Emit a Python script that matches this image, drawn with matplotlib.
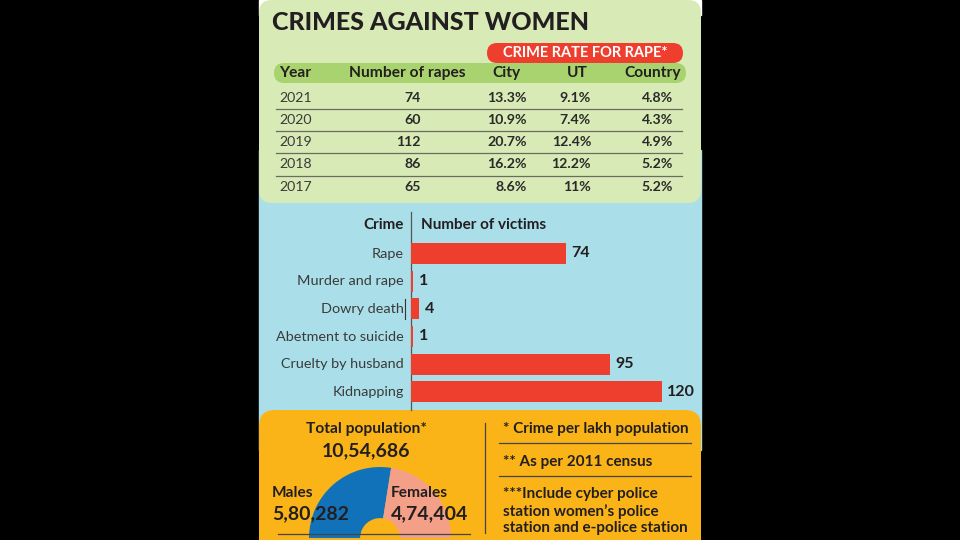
import matplotlib
matplotlib.use('Agg')
import matplotlib.pyplot as plt
from matplotlib import font_manager
from matplotlib.patches import FancyBboxPatch, Rectangle

# ---- data ----
years = ['2021', '2020', '2019', '2018', '2017']
rapes = [74, 60, 112, 86, 65]
city_rate = [13.3, 10.9, 20.7, 16.2, 8.6]
ut_rate = [9.1, 7.4, 12.4, 12.2, 11]
country_rate = [4.8, 4.3, 4.9, 5.2, 5.2]
table_cols = ['Year', 'Number of rapes', 'City', 'UT', 'Country']

crimes = ['Rape', 'Murder and rape', 'Dowry death', 'Abetment to suicide',
          'Cruelty by husband', 'Kidnapping']
victims = [74, 1, 4, 1, 95, 120]

males = 580282
females = 474404
total_pop = 1054686

notes = ['* Crime per lakh population', '** As per 2011 census',
         '***Include cyber police\nstation women\u2019s police\nstation and e-police station']

# ---- fonts ----
names = {f.name for f in font_manager.fontManager.ttflist}
body = 'Lato' if 'Lato' in names else 'DejaVu Sans'
plt.rcParams['font.family'] = [body, 'DejaVu Sans']
BOLD = 'bold'

INK = '#231f20'
GREEN = '#d8ebb6'
GREEN_DARK = '#a9d36e'
BLUE_BG = '#aadfe9'
ORANGE = '#fbb418'
RED = '#ee3f2e'
M_BLUE = '#1272b9'
F_PINK = '#f4a088'
LINE = '#6b6b60'


def indian(n):
    s = str(n)
    head, tail = s[:-3], s[-3:]
    parts = []
    while len(head) > 2:
        parts.insert(0, head[-2:])
        head = head[:-2]
    if head:
        parts.insert(0, head)
    return ','.join(parts + [tail])


def fax(l, t, w, h):
    return fig.add_axes([l / 960, 1 - (t + h) / 540, w / 960, h / 540])


fig = plt.figure(figsize=(9.6, 5.4), dpi=100, facecolor='black')
ax = fig.add_axes([0, 0, 1, 1])
ax.set_xlim(0, 960)
ax.set_ylim(540, 0)
ax.axis('off')

# panels
PL, PW = 259, 442
ax.add_patch(Rectangle((PL, 0), PW, 15, color='white', zorder=0))
ax.add_patch(Rectangle((PL, 150), PW, 300, color=BLUE_BG, zorder=0))
ax.add_patch(FancyBboxPatch((PL, 0), PW, 203, boxstyle='round,pad=0,rounding_size=13',
                            fc=GREEN, ec='none', zorder=1))
ax.add_patch(FancyBboxPatch((PL, 410), PW, 160, boxstyle='round,pad=0,rounding_size=16',
                            fc=ORANGE, ec='none', zorder=1))

# title
ax.text(272, 23, 'CRIMES AGAINST WOMEN', fontsize=18, fontweight='black',
        color=INK, va='center', ha='left', zorder=3)

# red pill
ax.add_patch(FancyBboxPatch((487, 43), 196, 20, boxstyle='round,pad=0,rounding_size=10',
                            fc=RED, ec='none', zorder=2))
ax.text(585, 53, 'CRIME RATE FOR RAPE*', color='white', fontsize=10.5, fontweight=BOLD,
        ha='center', va='center', zorder=3)

# header pill
ax.add_patch(FancyBboxPatch((274, 63), 412, 20, boxstyle='round,pad=0,rounding_size=10',
                            fc=GREEN_DARK, ec='none', zorder=2))
head_x = [279, 407, 506, 577, 681]
head_ha = ['left', 'center', 'center', 'center', 'right']
for label, x, ha in zip(table_cols, head_x, head_ha):
    ax.text(x, 73, label, fontsize=11.2, fontweight=BOLD, color=INK, ha=ha, va='center', zorder=3)

row_y0, row_dy = 97.5, 22.3
for i, yr in enumerate(years):
    y = row_y0 + i * row_dy
    ax.text(279, y, yr, fontsize=10.2, color='#3a3a3a', ha='left', va='center', zorder=3)
    ax.text(421, y, str(rapes[i]), fontsize=10.2, fontweight=BOLD, color='#2a2a2a', ha='right', va='center', zorder=3)
    ax.text(527, y, f'{city_rate[i]:g}%', fontsize=10.2, fontweight=BOLD, color='#2a2a2a', ha='right', va='center', zorder=3)
    ax.text(591, y, f'{ut_rate[i]:g}%', fontsize=10.2, fontweight=BOLD, color='#2a2a2a', ha='right', va='center', zorder=3)
    ax.text(673, y, f'{country_rate[i]:g}%', fontsize=10.2, fontweight=BOLD, color='#2a2a2a', ha='right', va='center', zorder=3)
    if i < len(years) - 1:
        ax.plot([276, 682], [y + row_dy / 2, y + row_dy / 2], color=LINE, lw=0.9, zorder=3)

# ---- bar chart ----
bx = fax(411, 239.5, 270, 166.2)
bx.barh(range(len(crimes)), victims, height=0.76, color=RED, zorder=2)
bx.set_xlim(0, 270 / 2.09)
bx.set_ylim(len(crimes) - 0.5, -0.5)
bx.axis('off')
for i, v in enumerate(victims):
    bx.text(v + 2.6, i, str(v), fontsize=11.5, fontweight=BOLD, color=INK, va='center', ha='left')
for i, c in enumerate(crimes):
    ax.text(404, 253.5 + i * 27.7, c, fontsize=10.4, color='#3a3a3a', ha='right', va='center', zorder=3)

ax.plot([411, 411], [212, 410], color='#555555', lw=0.9, zorder=3)
ax.plot([405, 405], [299, 319], color='#333333', lw=0.8, zorder=3)
ax.text(404, 225, 'Crime', fontsize=11, fontweight=BOLD, color=INK, ha='right', va='center', zorder=3)
ax.text(421, 225, 'Number of victims', fontsize=11, fontweight=BOLD, color=INK, ha='left', va='center', zorder=3)

# ---- population half donut ----
px = fax(309, 467, 142, 142)
px.pie([males, females, total_pop], colors=[M_BLUE, F_PINK, 'none'], startangle=180,
       counterclock=False, radius=1, wedgeprops=dict(width=0.72, linewidth=0))
px.set_xlim(-1, 1)
px.set_ylim(-1, 1)
px.set_aspect('equal')
px.axis('off')

ax2 = fig.add_axes([0, 0, 1, 1])
ax2.set_xlim(0, 960)
ax2.set_ylim(540, 0)
ax2.axis('off')
ax2.patch.set_alpha(0)

ax2.text(366, 429, 'Total population*', fontsize=11.2, fontweight=BOLD, color=INK, ha='center', va='center')
ax2.text(366, 451, indian(total_pop), fontsize=14, fontweight=BOLD, color=INK, ha='center', va='center')
ax2.text(272, 493, 'Males', fontsize=11.2, fontweight=BOLD, color=INK, ha='left', va='center')
ax2.text(272, 514, indian(males), fontsize=14, fontweight=BOLD, color=INK, ha='left', va='center')
ax2.text(391, 493, 'Females', fontsize=11.2, fontweight=BOLD, color=INK, ha='left', va='center')
ax2.text(391, 514, indian(females), fontsize=14, fontweight=BOLD, color=INK, ha='left', va='center')
ax2.plot([278, 470], [534, 534], color='#444444', lw=0.9)
ax2.plot([485, 485], [423, 533], color='#444444', lw=0.9)

note_y = [429, 462, 511]
for t, y in zip(notes, note_y):
    ax2.text(503, y, t, fontsize=11, fontweight=BOLD, color=INK, ha='left', va='center', linespacing=1.25)
ax2.plot([499, 691], [443, 443], color='#444444', lw=0.9)
ax2.plot([499, 691], [476, 476], color='#444444', lw=0.9)

fig.savefig('out.png', dpi=100, facecolor='black')
